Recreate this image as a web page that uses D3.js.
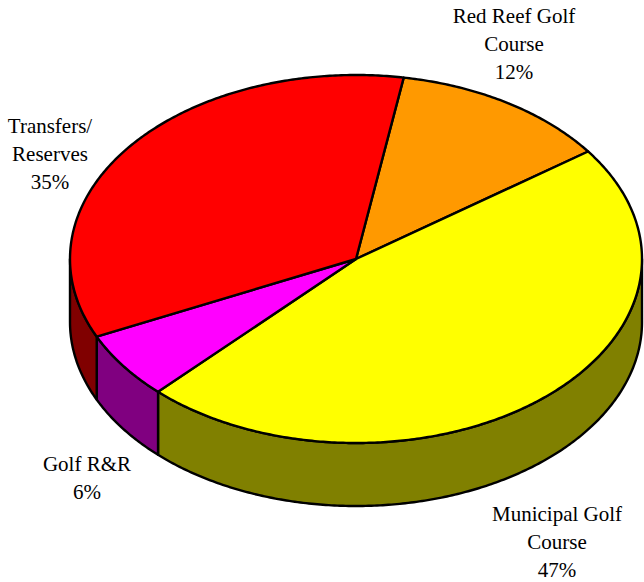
<!DOCTYPE html>
<html>
<head>
<meta charset="utf-8">
<script src="https://cdn.jsdelivr.net/npm/d3@7"></script>
<style>
  body { margin: 0; background: #fff; }
  svg { display: block; }
</style>
</head>
<body>
<div id="chart"></div>
<script>
// Slice data (clockwise from the top)
var categories = ["Red Reef Golf Course", "Municipal Golf Course", "Golf R&R", "Transfers/ Reserves"];
var values = [12.4, 47.1, 5.9, 34.6];
var topColors = ["#FF9900", "#FFFF00", "#FF00FF", "#FF0000"];
var sideColors = ["#996600", "#808000", "#800080", "#800000"];
var labelLines = [["Red Reef Golf", "Course"], ["Municipal Golf", "Course"], ["Golf R&R"], ["Transfers/", "Reserves"]];
var labelPos = [[514, 23], [557, 521], [87, 471], [50, 133]];

var svgWidth = 644;
var svgHeight = 582;

// ellipse geometry of the pie
var cx = 356, cy = 259, rx = 286, ry = 184, depth = 63;
var startDeg = 9.6;

var svg = d3.select("#chart")
  .append("svg")
  .attr("width", svgWidth)
  .attr("height", svgHeight);

var xScale = d3.scaleLinear().domain([-1, 1]).range([cx - rx, cx + rx]);
var yScale = d3.scaleLinear().domain([-1, 1]).range([cy - ry, cy + ry]);

var pie = d3.pie()
  .sort(null)
  .startAngle(startDeg * Math.PI / 180)
  .endAngle(startDeg * Math.PI / 180 + 2 * Math.PI);

var arcs = pie(values);
var total = d3.sum(values);

function pt(a, dy) {
  return [xScale(Math.sin(a)), yScale(-Math.cos(a)) + dy];
}

function arcPoints(a0, a1, dy) {
  var n = Math.max(2, Math.ceil(Math.abs(a1 - a0) / 0.01));
  var pts = [];
  for (var i = 0; i <= n; i++) {
    pts.push(pt(a0 + (a1 - a0) * i / n, dy));
  }
  return pts;
}

var line = d3.line();

// side walls (visible front half: angles PI/2 .. 3PI/2, and shifted by 2PI)
var sideGroup = svg.append("g");
arcs.forEach(function(d, i) {
  [0, 2 * Math.PI].forEach(function(shift) {
    var lo = Math.PI / 2 + shift, hi = 3 * Math.PI / 2 + shift;
    var a0 = Math.max(d.startAngle, lo), a1 = Math.min(d.endAngle, hi);
    if (a1 <= a0) return;
    var pts = arcPoints(a0, a1, 0).concat(arcPoints(a1, a0, depth));
    sideGroup.append("path")
      .attr("d", line(pts) + "Z")
      .attr("fill", sideColors[i])
      .attr("stroke", "#000")
      .attr("stroke-width", 2.4)
      .attr("stroke-linejoin", "round");
  });
});

// top faces
var topGroup = svg.append("g");
arcs.forEach(function(d, i) {
  var pts = [[cx, cy]].concat(arcPoints(d.startAngle, d.endAngle, 0));
  topGroup.append("path")
    .attr("d", line(pts) + "Z")
    .attr("fill", topColors[i])
    .attr("stroke", "#000")
    .attr("stroke-width", 2.4)
    .attr("stroke-linejoin", "round");
});

// labels
var labelGroup = svg.append("g")
  .style("font-family", "'Liberation Serif', 'Times New Roman', serif")
  .attr("font-size", 21)
  .attr("fill", "#000");
arcs.forEach(function(d, i) {
  var lines = labelLines[i].concat([Math.round(values[i] / total * 100) + "%"]);
  var t = labelGroup.append("text")
    .attr("text-anchor", "middle")
    .attr("x", labelPos[i][0])
    .attr("y", labelPos[i][1]);
  lines.forEach(function(s, k) {
    t.append("tspan")
      .attr("x", labelPos[i][0])
      .attr("dy", k === 0 ? 0 : 28)
      .text(s);
  });
});
</script>
</body>
</html>
